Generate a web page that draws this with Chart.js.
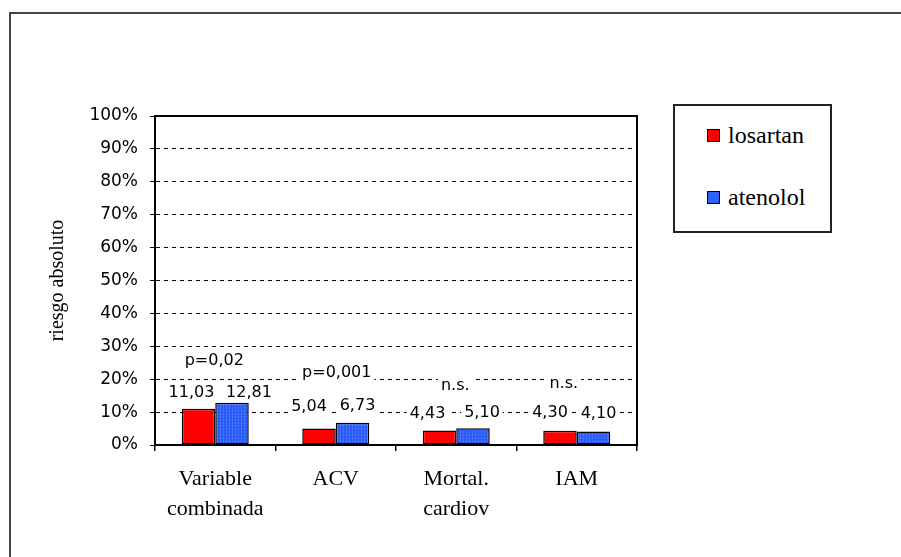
<!DOCTYPE html>
<html>
<head>
<meta charset="utf-8">
<title>riesgo absoluto</title>
<script src="https://cdn.jsdelivr.net/npm/chart.js@4/dist/chart.umd.min.js"></script>
<style>
  html, body { margin: 0; padding: 0; background: #fff; }
  #wrap { position: relative; width: 901px; height: 557px; overflow: hidden; }
  #frame { position: absolute; left: 9px; top: 12px; width: 1000px; height: 1000px;
           border-left: 2px solid #444; border-top: 2px solid #444; }
  #c { position: absolute; left: 0; top: 0; }
  #legend { position: absolute; left: 673px; top: 104px; width: 155px; height: 125px;
            border: 2px solid #222; background: #fff;
            font-family: "Liberation Serif", "Times New Roman", serif; font-size: 24px; color: #000; }
  #legend .item { position: absolute; left: 32px; height: 28px; display: flex; align-items: center; white-space: nowrap; }
  #legend .sw { width: 11px; height: 11px; border: 1px solid #000; margin-right: 8px; }
</style>
</head>
<body>
<div id="wrap">
  <div id="frame"></div>
  <canvas id="c" width="901" height="557"></canvas>
  <div id="legend"></div>
</div>
<script>
// Endpoints and absolute risk (%) per treatment arm
const categories = [['Variable', 'combinada'], ['ACV'], ['Mortal.', 'cardiov'], ['IAM']];
const seriesNames = ['losartan', 'atenolol'];
const losartan = [11.03, 5.04, 4.43, 4.30];
const atenolol = [12.81, 6.73, 5.10, 4.10];
const significance = ['p=0,02', 'p=0,001', 'n.s.', 'n.s.'];
const yTickValues = [0, 10, 20, 30, 40, 50, 60, 70, 80, 90, 100];

const canvas = document.getElementById('c');
const ctx = canvas.getContext('2d');

// Fine dotted fill used for the atenolol bars
function dotted(base, dot) {
  const t = document.createElement('canvas');
  t.width = 3; t.height = 3;
  const g = t.getContext('2d');
  g.fillStyle = base; g.fillRect(0, 0, 3, 3);
  g.fillStyle = dot; g.fillRect(1, 0, 1, 1); g.fillRect(1, 2, 1, 1);
  return ctx.createPattern(t, 'repeat');
}

const colors = ['#ff0000', dotted('#2c5cf6', '#4d7dff')];
const swatchColors = ['#ff0000', '#2f62f8'];

const fmt = v => v.toFixed(2).replace('.', ',');

// Value labels and significance notes on white boxes, drawn under the bars
const barNotes = {
  id: 'barNotes',
  beforeDatasetsDraw(chart, args, opts) {
    const c = chart.ctx;
    c.save();
    c.font = opts.font;
    c.textAlign = 'center';
    c.textBaseline = 'middle';
    const box = (text, x, y) => {
      const w = c.measureText(text).width + opts.padX * 2;
      c.fillStyle = '#fff';
      c.fillRect(x - w / 2, y - opts.halfH, w, opts.halfH * 2);
      c.fillStyle = '#000';
      c.fillText(text, x, y + 1);
    };
    const metas = chart.data.datasets.map((d, i) => chart.getDatasetMeta(i));
    metas.forEach((m, d) => m.data.forEach((bar, i) => {
      const [dx, dy] = opts.valueNudge[d][i];
      box(fmt(chart.data.datasets[d].data[i]), bar.x + dx, bar.y + dy);
    }));
    const xs = chart.scales.x;
    significance.forEach((t, i) => {
      const top = Math.min(...metas.map(m => m.data[i].y));
      const [dx, dy] = opts.noteNudge[i];
      box(t, xs.getPixelForValue(i) + dx, top + dy);
    });
    c.restore();
  }
};

// Solid border round the plot area
const plotFrame = {
  id: 'plotFrame',
  afterDatasetsDraw(chart) {
    const a = chart.chartArea, c = chart.ctx;
    c.save();
    c.strokeStyle = '#000';
    c.lineWidth = 2;
    c.setLineDash([]);
    c.strokeRect(a.left, a.top, a.right - a.left, a.bottom - a.top);
    c.restore();
  }
};

const chart = new Chart(ctx, {
  type: 'bar',
  data: {
    labels: categories,
    datasets: [
      { label: seriesNames[0], data: losartan, backgroundColor: colors[0] },
      { label: seriesNames[1], data: atenolol, backgroundColor: colors[1] }
    ]
  },
  plugins: [barNotes, plotFrame],
  options: {
    responsive: false,
    animation: false,
    events: [],
    layout: { padding: { top: 116, right: 264, bottom: 0, left: 0 } },
    datasets: {
      bar: {
        categoryPercentage: 0.556,
        barPercentage: 1,
        borderColor: '#000',
        borderWidth: 1.5,
        borderSkipped: false
      }
    },
    plugins: {
      legend: { display: false },
      tooltip: { enabled: false },
      barNotes: {
        font: '16px "DejaVu Sans", sans-serif',
        padX: 3,
        halfH: 10,
        valueNudge: [
          [[-7, -17], [-10, -23], [-12, -18], [-10, -19]],
          [[17, -11], [5, -18], [9, -16], [5, -19]]
        ],
        noteNudge: [[-1, -43], [1, -51], [-1, -43], [-13, -48]]
      }
    },
    scales: {
      x: {
        afterFit(s) { s.height = 112; },
        grid: { display: true, drawOnChartArea: false, drawTicks: true, tickLength: 6, offset: true, color: '#000', lineWidth: 1.5 },
        border: { display: true, color: '#000', width: 2 },
        ticks: {
          color: '#000',
          padding: 13,
          maxRotation: 0,
          autoSkip: false,
          font: { family: '"Liberation Serif", "Times New Roman", serif', size: 22, lineHeight: 1.36 }
        }
      },
      y: {
        min: 0,
        max: 100,
        afterFit(s) { s.width = 155; },
        afterBuildTicks(s) { s.ticks = yTickValues.map(v => ({ value: v })); },
        grid: {
          color: c => (c.tick && (c.tick.value === 0 || c.tick.value === 100)) ? 'rgba(0,0,0,0)' : '#000',
          tickColor: '#000',
          lineWidth: 1,
          tickLength: 5,
          tickBorderDash: []
        },
        border: { display: true, color: '#000', width: 2, dash: [4, 4] },
        ticks: {
          color: '#000',
          padding: 12,
          font: { family: '"DejaVu Sans", sans-serif', size: 17 },
          callback: v => v + '%'
        },
        title: {
          display: true,
          text: 'riesgo absoluto',
          color: '#000',
          font: { family: '"Liberation Serif", "Times New Roman", serif', size: 20 },
          padding: { top: 46, bottom: 0 }
        }
      }
    }
  }
});

// Legend box built from the dataset names
const legend = document.getElementById('legend');
seriesNames.forEach((name, i) => {
  const item = document.createElement('div');
  item.className = 'item';
  item.style.top = (15 + i * 62) + 'px';
  const sw = document.createElement('span');
  sw.className = 'sw';
  sw.style.background = swatchColors[i];
  const tx = document.createElement('span');
  tx.textContent = name;
  item.appendChild(sw);
  item.appendChild(tx);
  legend.appendChild(item);
});
</script>
</body>
</html>
